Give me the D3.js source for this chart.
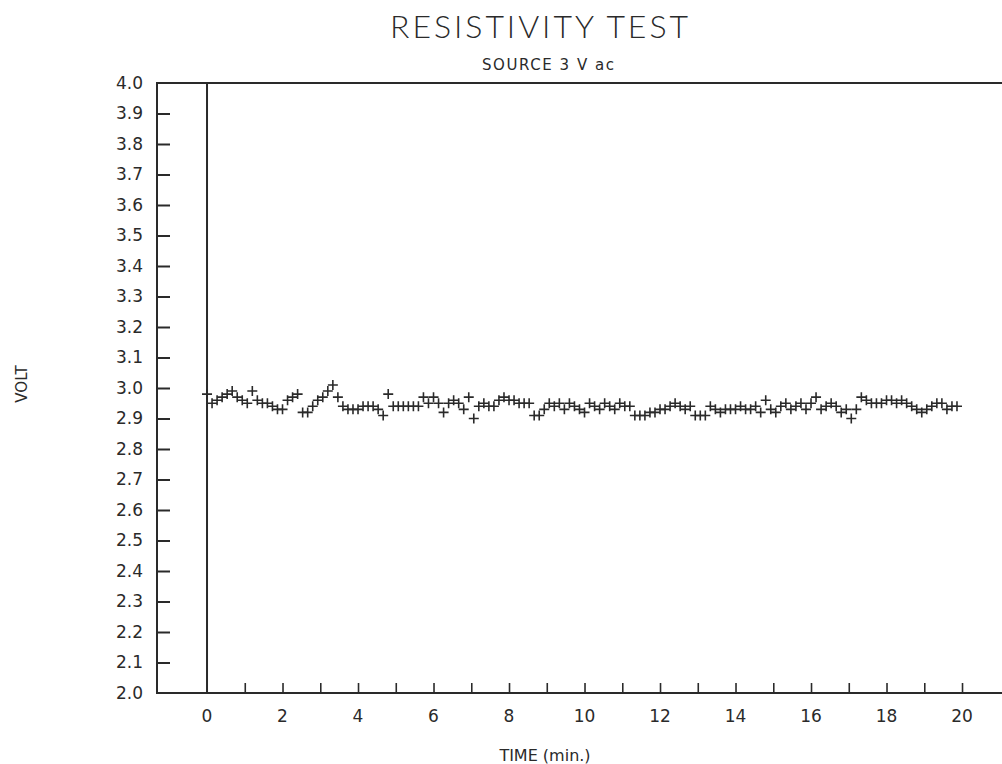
<!DOCTYPE html>
<html>
<head>
<meta charset="utf-8">
<script src="https://cdn.jsdelivr.net/npm/d3@7"></script>
<style>
  body { margin: 0; background: #fff; }
  svg { display: block; }
  text { fill: #2a2a2a; font-family: "DejaVu Sans", sans-serif; }
</style>
</head>
<body>
<div id="chart"></div>
<script>
// readings, one every 8 seconds starting at t = 0
const sampleSeconds = 8
const volts = [
  2.98, 2.95, 2.96, 2.97, 2.98, 2.99, 2.97, 2.96, 2.95, 2.99,
  2.96, 2.95, 2.95, 2.94, 2.93, 2.93, 2.96, 2.97, 2.98, 2.92,
  2.92, 2.94, 2.96, 2.97, 2.99, 3.01, 2.97, 2.94, 2.93, 2.93,
  2.93, 2.94, 2.94, 2.94, 2.93, 2.91, 2.98, 2.94, 2.94, 2.94,
  2.94, 2.94, 2.94, 2.97, 2.95, 2.97, 2.95, 2.92, 2.95, 2.96,
  2.95, 2.93, 2.97, 2.90, 2.94, 2.95, 2.94, 2.94, 2.96, 2.97,
  2.96, 2.96, 2.95, 2.95, 2.95, 2.91, 2.91, 2.93, 2.95, 2.94,
  2.95, 2.93, 2.95, 2.94, 2.93, 2.92, 2.95, 2.94, 2.93, 2.95,
  2.94, 2.93, 2.95, 2.94, 2.94, 2.91, 2.91, 2.91, 2.92, 2.92,
  2.93, 2.93, 2.94, 2.95, 2.94, 2.93, 2.94, 2.91, 2.91, 2.91,
  2.94, 2.93, 2.92, 2.93, 2.93, 2.93, 2.94, 2.93, 2.93, 2.94,
  2.92, 2.96, 2.93, 2.92, 2.94, 2.95, 2.93, 2.94, 2.95, 2.93,
  2.95, 2.97, 2.93, 2.94, 2.95, 2.94, 2.92, 2.93, 2.90, 2.93,
  2.97, 2.96, 2.95, 2.95, 2.95, 2.96, 2.96, 2.95, 2.96, 2.95,
  2.94, 2.93, 2.92, 2.93, 2.94, 2.95, 2.95, 2.93, 2.94, 2.94
]
const yTicks = [2.0, 2.1, 2.2, 2.3, 2.4, 2.5, 2.6, 2.7, 2.8, 2.9, 3.0,
                3.1, 3.2, 3.3, 3.4, 3.5, 3.6, 3.7, 3.8, 3.9, 4.0]
const xTicks = d3.range(1, 21)
const xLabels = [0, 2, 4, 6, 8, 10, 12, 14, 16, 18, 20]

const width = 1002, height = 764
const plotLeft = 157, plotRight = 1010, plotTop = 83, plotBottom = 693
const ink = "#2a2a2a"

const svg = d3.select("#chart").append("svg")
    .attr("width", width)
    .attr("height", height)

// 37.75 px per minute, frame starts at -1.325 min
const x = d3.scaleLinear()
    .domain([-1.325, -1.325 + (plotRight - plotLeft) / 37.75])
    .range([plotLeft, plotRight])
const y = d3.scaleLinear()
    .domain([2.0, 4.0])
    .range([plotBottom, plotTop])

// titles
svg.append("text")
    .attr("x", 539).attr("y", 38)
    .attr("text-anchor", "middle")
    .attr("textLength", 298)
    .style("font-family", "Lato, 'DejaVu Sans', sans-serif")
    .style("font-weight", 300)
    .style("font-size", "32px")
    .text("RESISTIVITY TEST")
svg.append("text")
    .attr("x", 548).attr("y", 70)
    .attr("text-anchor", "middle")
    .attr("textLength", 132)
    .style("font-size", "15px")
    .text("SOURCE 3 V ac")

// frame
svg.append("path")
    .attr("d", "M" + plotRight + "," + plotTop + "H" + plotLeft + "V" + plotBottom + "H" + plotRight)
    .attr("fill", "none")
    .attr("stroke", ink)
    .attr("stroke-width", 2)

// y axis on left frame, ticks pointing inward
const yAxis = svg.append("g")
    .attr("transform", "translate(" + plotLeft + ",0)")
    .call(d3.axisLeft(y).tickValues(yTicks).tickSize(-13).tickPadding(14)
        .tickFormat(d3.format(".1f")))
yAxis.select(".domain").remove()
yAxis.selectAll(".tick line")
    .attr("stroke", ink).attr("stroke-width", 2)
    .filter(d => d === 2.0 || d === 4.0).remove()
yAxis.selectAll(".tick text")
    .attr("fill", ink)
    .style("font-size", "17px")
    .style("font-family", "'DejaVu Sans', sans-serif")

// x axis on bottom frame, ticks pointing up
const xAxis = svg.append("g")
    .attr("transform", "translate(0," + plotBottom + ")")
    .call(d3.axisBottom(x).tickValues(xTicks).tickSize(-10).tickPadding(15)
        .tickFormat(""))
xAxis.select(".domain").remove()
xAxis.selectAll(".tick line").attr("stroke", ink).attr("stroke-width", 1.6)

svg.append("g")
    .selectAll("text")
    .data(xLabels)
    .join("text")
    .attr("x", d => x(d))
    .attr("y", plotBottom + 29)
    .attr("text-anchor", "middle")
    .style("font-size", "17px")
    .text(d => d)

// time zero line
svg.append("line")
    .attr("x1", x(0)).attr("x2", x(0))
    .attr("y1", y(4.0)).attr("y2", y(2.0))
    .attr("stroke", ink)
    .attr("stroke-width", 2)

// axis titles
svg.append("text")
    .attr("x", 545).attr("y", 761)
    .attr("text-anchor", "middle")
    .style("font-size", "16px")
    .text("TIME (min.)")
svg.append("text")
    .attr("transform", "translate(27,384) rotate(-90)")
    .attr("text-anchor", "middle")
    .style("font-size", "15px")
    .text("VOLT")

// data, plotted as plus marks
const arm = 5
svg.append("g")
    .selectAll("path")
    .data(volts)
    .join("path")
    .attr("transform", (d, i) => "translate(" + x(i * sampleSeconds / 60) + "," + y(d) + ")")
    .attr("d", "M" + (-arm) + ",0H" + arm + "M0," + (-arm) + "V" + arm)
    .attr("stroke", ink)
    .attr("stroke-width", 1.6)
    .attr("fill", "none")
</script>
</body>
</html>
